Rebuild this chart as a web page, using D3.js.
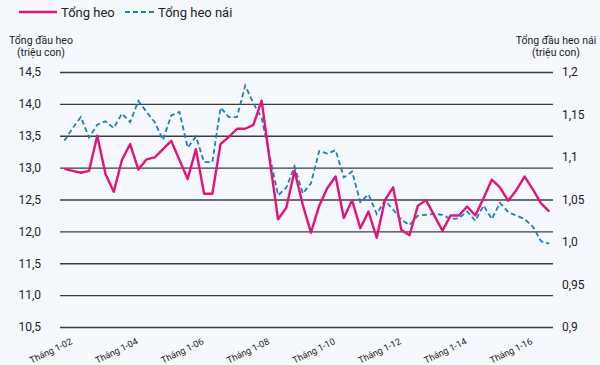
<!DOCTYPE html>
<html><head><meta charset="utf-8">
<script src="https://cdn.jsdelivr.net/npm/d3@7"></script>
<style>
html,body{margin:0;padding:0;background:#f5f9fd;}
svg{display:block;font-family:Roboto,"Noto Sans",sans-serif;}
</style></head>
<body><svg id="c" width="600" height="365"></svg>
<script>
const categories = ["1-02","4-02","7-02","10-02","1-03","4-03","7-03","10-03","1-04","4-04","7-04","10-04",
"1-05","4-05","7-05","10-05","1-06","4-06","7-06","10-06","1-07","4-07","7-07","10-07",
"1-08","4-08","7-08","10-08","1-09","4-09","7-09","10-09","1-10","4-10","7-10","10-10",
"1-11","4-11","7-11","10-11","1-12","4-12","7-12","10-12","1-13","4-13","7-13","10-13",
"1-14","4-14","7-14","10-14","1-15","4-15","7-15","10-15","1-16","4-16","7-16","10-16"];
const tongHeo = [12.98,12.95,12.92,12.95,13.50,12.90,12.62,13.12,13.37,12.97,13.13,13.16,
13.29,13.42,13.12,12.82,13.29,12.59,12.59,13.37,13.48,13.61,13.61,13.67,
14.05,13.10,12.19,12.37,12.95,12.42,11.98,12.40,12.68,12.86,12.21,12.49,
12.05,12.31,11.90,12.49,12.69,12.02,11.94,12.40,12.49,12.25,12.01,12.25,
12.25,12.39,12.25,12.52,12.81,12.69,12.48,12.65,12.86,12.66,12.44,12.31];
const tongHeoNai = [1.119,1.134,1.147,1.123,1.138,1.142,1.134,1.151,1.141,1.166,1.153,1.141,
1.120,1.149,1.153,1.111,1.124,1.094,1.094,1.158,1.147,1.147,1.184,1.163,
1.146,1.100,1.055,1.064,1.089,1.057,1.069,1.107,1.104,1.108,1.076,1.083,
1.047,1.056,1.033,1.049,1.038,1.026,1.020,1.031,1.032,1.033,1.032,1.027,
1.028,1.036,1.025,1.043,1.027,1.046,1.035,1.031,1.027,1.018,1.001,0.998];
const xTickCats = ["1-02","1-04","1-06","1-08","1-10","1-12","1-14","1-16"];
const xTickLabels = ["Tháng 1-02","Tháng 1-04","Tháng 1-06","Tháng 1-08","Tháng 1-10","Tháng 1-12","Tháng 1-14","Tháng 1-16"];
const leftTicks = [10.5,11.0,11.5,12.0,12.5,13.0,13.5,14.0,14.5];
const leftTickLabels = ["10,5","11,0","11,5","12,0","12,5","13,0","13,5","14,0","14,5"];
const rightTicks = [0.9,0.95,1.0,1.05,1.1,1.15,1.2];
const rightTickLabels = ["0,9","0,95","1,0","1,05","1,1","1,15","1,2"];
const seriesNames = ["Tổng heo","Tổng heo nái"];
const leftTitle = ["Tổng đầu heo","(triệu con)"];
const rightTitle = ["Tổng đầu heo nái","(triệu con)"];

const PINK = "#e2137b", BLUE = "#1f7cc6";
const svg = d3.select("#c");
const x = d3.scalePoint().domain(categories).range([64.4, 549.3]);
const yL = d3.scaleLinear().domain([10.5, 14.5]).range([327, 72]);
const yR = d3.scaleLinear().domain([0.9, 1.2]).range([327, 72]);
const gridX0 = 60, gridX1 = 553;

// gridlines
const grid = svg.append("g").attr("transform", `translate(${gridX0},0)`)
  .call(d3.axisRight(yL).tickValues(leftTicks).tickSize(gridX1 - gridX0).tickFormat(""));
grid.select(".domain").remove();
grid.selectAll("line").attr("stroke", "#3d3d3d").attr("stroke-width", 1.3);

// left axis labels
const la = svg.append("g").attr("transform", "translate(41,0)")
  .call(d3.axisLeft(yL).tickValues(leftTicks).tickSize(0).tickPadding(0)
    .tickFormat((d, i) => leftTickLabels[i]));
la.select(".domain").remove();
la.selectAll("text").attr("font-size", 12).attr("fill", "#222").attr("font-family", "Roboto");

// right axis labels
const ra = svg.append("g").attr("transform", "translate(562,0)")
  .call(d3.axisRight(yR).tickValues(rightTicks).tickSize(0).tickPadding(0)
    .tickFormat((d, i) => rightTickLabels[i]));
ra.select(".domain").remove();
ra.selectAll("text").attr("font-size", 12).attr("fill", "#222").attr("font-family", "Roboto");

// x axis labels
const xa = svg.append("g").attr("transform", "translate(0,335)")
  .call(d3.axisBottom(x).tickValues(xTickCats).tickSize(0).tickPadding(0)
    .tickFormat((d, i) => xTickLabels[i]));
xa.select(".domain").remove();
xa.selectAll("text").attr("font-size", 9.2).attr("fill", "#222").attr("font-family", "Roboto")
  .attr("text-anchor", "end").attr("dy", 0).attr("y", 0)
  .attr("transform", "translate(8,8.5) rotate(-26)");

// axis titles
[[41, leftTitle], [556, rightTitle]].forEach(([cx, lines]) => {
  lines.forEach((t, i) => svg.append("text").attr("x", cx).attr("y", 44 + i * 12)
    .attr("text-anchor", "middle").attr("font-size", 10.5).attr("fill", "#222").text(t));
});

// lines
const lineL = d3.line().x((d, i) => x(categories[i])).y(d => yL(d));
const lineR = d3.line().x((d, i) => x(categories[i])).y(d => yR(d));
svg.append("path").datum(tongHeoNai).attr("d", lineR).attr("fill", "none")
  .attr("stroke", BLUE).attr("stroke-width", 1.8).attr("stroke-dasharray", "5,3");
svg.append("path").datum(tongHeo).attr("d", lineL).attr("fill", "none")
  .attr("stroke", PINK).attr("stroke-width", 2.4).attr("stroke-linejoin", "round");

// legend
const leg = svg.append("g");
leg.append("line").attr("x1", 19).attr("x2", 57).attr("y1", 12).attr("y2", 12)
  .attr("stroke", PINK).attr("stroke-width", 2.4);
leg.append("text").attr("x", 61).attr("y", 16.5).attr("font-size", 13).attr("fill", "#222").text(seriesNames[0]);
leg.append("line").attr("x1", 125).attr("x2", 157).attr("y1", 12).attr("y2", 12)
  .attr("stroke", BLUE).attr("stroke-width", 1.8).attr("stroke-dasharray", "5,3");
leg.append("text").attr("x", 158).attr("y", 16.5).attr("font-size", 13).attr("fill", "#222").text(seriesNames[1]);
</script></body></html>
